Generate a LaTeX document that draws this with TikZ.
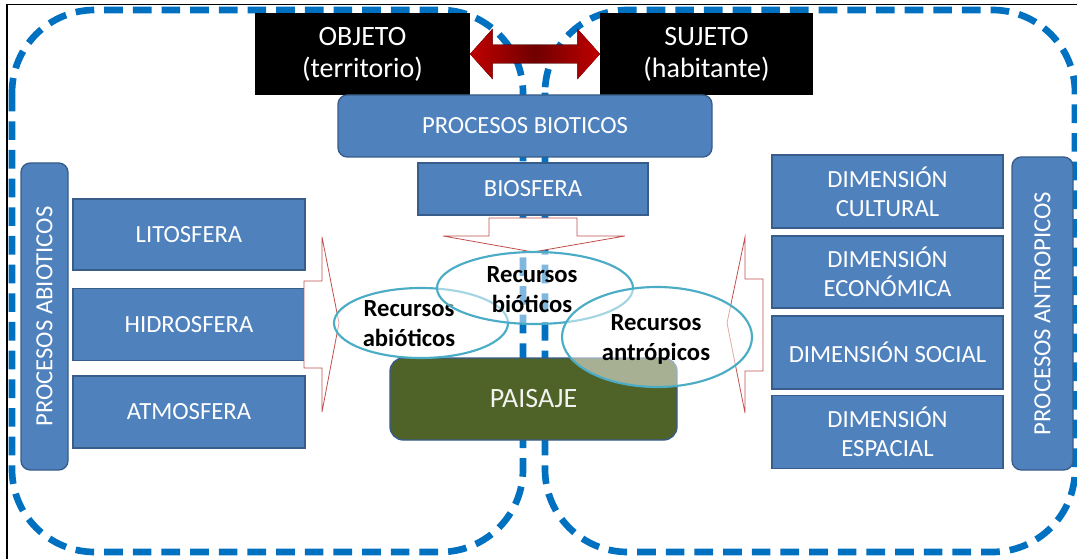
\documentclass[tikz,border=0pt]{standalone}
\usepackage{fontspec}
\setmainfont{Carlito}
\usetikzlibrary{shapes.geometric}
\definecolor{dashblue}{HTML}{0070C0}
\definecolor{boxblue}{HTML}{4F81BD}
\definecolor{boxedge}{HTML}{385D8A}
\definecolor{olivebox}{HTML}{4F6228}
\definecolor{ellteal}{HTML}{4BACC6}
\definecolor{calred}{HTML}{C0504D}
\definecolor{arrred}{HTML}{C00000}
\definecolor{arrdark}{HTML}{700000}
\begin{document}
\begin{tikzpicture}[x=0.75pt,y=-0.75pt,
  every node/.style={inner sep=0pt, outer sep=0pt},
  bluebox/.style={draw=boxedge, fill=boxblue, line width=1pt, text=white, align=center,
    font=\fontsize{18.5}{21.5}\selectfont},
  roundbox/.style={bluebox, rounded corners=7pt},
  blackbox/.style={fill=black, text=white, align=center, font=\fontsize{21}{24}\selectfont,
    minimum height=61.5pt},
  dashrect/.style={draw=dashblue, line width=5pt, dash pattern=on 14pt off 7.5pt, rounded corners=62pt},
  callout/.style={draw=calred, line width=0.6pt, fill=white, line join=miter},
  ell/.style={ellipse, draw=ellteal, line width=1.6pt, fill=white, fill opacity=0.5},
  elltext/.style={align=center, text=black, font=\bfseries\fontsize{18.5}{22.5}\selectfont}
]
\useasboundingbox (0,0) rectangle (1077,559);
\fill[white] (0,0) rectangle (1077,559);
% frame lines
\draw[black, line width=1pt] (7,559) -- (7,4.5) -- (1077,4.5);
% dashed regions
\draw[dashrect] (12,10) rectangle (523,552);
\draw[dashrect] (545,10) rectangle (1075,552);
% down block arrow
\draw[callout] (489,218) -- (489,236) -- (443,236) -- (533,252) -- (625,236) -- (577,236) -- (577,218) -- cycle;
% black boxes
\node[blackbox, minimum width=161.25pt] (obj) at (362.5,54) {OBJETO\\(territorio)};
\node[blackbox, minimum width=159.75pt] (suj) at (706.5,54) {SUJETO\\(habitante)};
\fill[left color=arrred, right color=arrred, middle color=arrdark]
  (obj.east) -- ([xshift=17pt,yshift=19pt]obj.east) -- ([xshift=17pt,yshift=7pt]obj.east)
  -- ([xshift=-17pt,yshift=7pt]suj.west) -- ([xshift=-17pt,yshift=19pt]suj.west) -- (suj.west)
  -- ([xshift=-17pt,yshift=-19pt]suj.west) -- ([xshift=-17pt,yshift=-7pt]suj.west)
  -- ([xshift=17pt,yshift=-7pt]obj.east) -- ([xshift=17pt,yshift=-19pt]obj.east) -- cycle;
% central column
\node[roundbox, minimum width=280.5pt, minimum height=46.5pt] (bioticos) at (525,126) {PROCESOS BIOTICOS};
\node[bluebox, minimum width=172.5pt, minimum height=39pt] (biosfera) at (533,189) {BIOSFERA};
\node[draw=boxedge, line width=1pt, fill=olivebox, rounded corners=10pt, text=white!92!olivebox,
  font=\fontsize{21}{24}\selectfont, minimum width=215.25pt, minimum height=61.5pt] (paisaje) at (533.5,399) {PAISAJE};
% left column
\node[roundbox, rotate=90, minimum width=230.25pt, minimum height=35.25pt] (abio) at (44.5,316.5) {PROCESOS ABIOTICOS};
\node[bluebox, minimum width=174pt, minimum height=53.25pt] (lito) at (189,234.5) {LITOSFERA};
\node[bluebox, minimum width=174pt, minimum height=54pt] (hidro) at (189,324.5) {HIDROSFERA};
\node[bluebox, minimum width=174pt, minimum height=54pt] (atmo) at (189,412) {ATMOSFERA};
% right column
\node[bluebox, minimum width=173.25pt, minimum height=54.75pt] (cult) at (887.5,191.5) {DIMENSIÓN\\CULTURAL};
\node[bluebox, minimum width=173.25pt, minimum height=54pt] (econ) at (887.5,272) {DIMENSIÓN\\ECONÓMICA};
\node[bluebox, minimum width=173.25pt, minimum height=54.75pt] (soc) at (887.5,352.5) {DIMENSIÓN SOCIAL};
\node[bluebox, minimum width=173.25pt, minimum height=54.75pt] (esp) at (887.5,432) {DIMENSIÓN\\ESPACIAL};
\node[roundbox, rotate=90, minimum width=234.75pt, minimum height=45.75pt] (antro) at (1042.5,313.5) {PROCESOS ANTROPICOS};
% side block arrows
\draw[callout] (304,281) -- (322,281) -- (322,237) -- (339,323) -- (322,412) -- (322,368) -- (304,368) -- cycle;
\draw[callout] (763,279) -- (745,279) -- (745,237) -- (727,323) -- (745,413) -- (745,371) -- (763,371) -- cycle;
% ellipses
\node[ell, minimum width=130.5pt, minimum height=52.5pt] (eabio) at (421,323) {};
\node[elltext] (tabio) at (409,323.5) {Recursos\\abióticos};
\node[ell, minimum width=147pt, minimum height=54pt] (ebio) at (535,288) {};
\node[elltext] (tbio) at (532,290) {Recursos\\bióticos};
\node[ell, minimum width=142.5pt, minimum height=75pt] (eantro) at (657,337) {};
\node[elltext] (tantro) at (656,339.5) {Recursos\\antrópicos};
\end{tikzpicture}
\end{document}
